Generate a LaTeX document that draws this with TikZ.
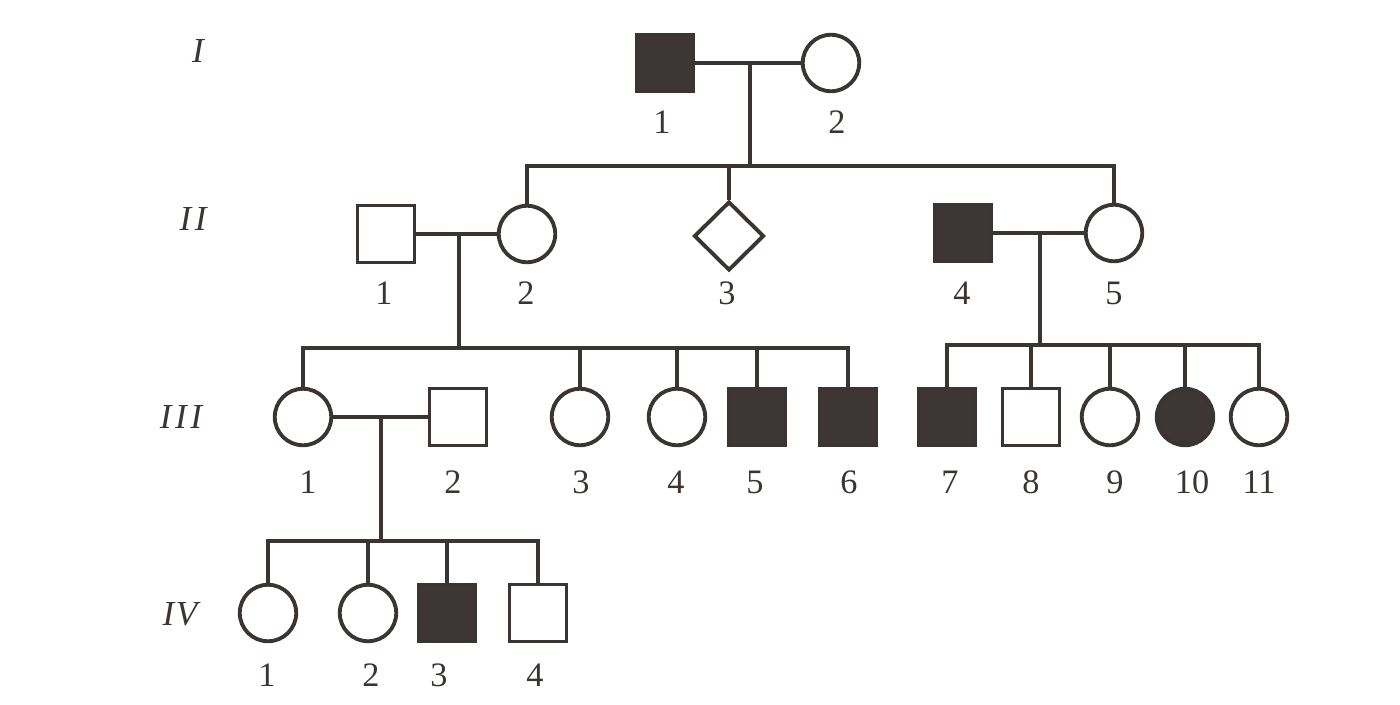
\documentclass[tikz,border=0pt]{standalone}
\usepackage{fontspec}
\setmainfont{Liberation Serif}
\usetikzlibrary{shapes.geometric, positioning}
\definecolor{pedgray}{RGB}{58, 52, 50}
\definecolor{pedfill}{RGB}{62, 54, 52}

\begin{document}
\begin{tikzpicture}[
    x=0.02cm, y=-0.02cm,
    malebox/.style={rectangle, draw=pedgray, line width=2.2pt, minimum size=1.14cm, inner sep=0pt},
    femalebox/.style={circle, draw=pedgray, line width=2.2pt, minimum size=1.13cm, inner sep=0pt},
    unkbox/.style={diamond, draw=pedgray, line width=2.2pt, minimum width=1.4cm, minimum height=1.38cm, inner sep=0pt},
    affected/.style={fill=pedfill},
    numtext/.style={font=\fontsize{19.5}{22}\selectfont, text=pedgray, inner sep=0pt},
    gentext/.style={font=\fontsize{20}{22}\selectfont\itshape, text=pedgray, inner sep=0pt},
    line/.style={draw=pedgray, line width=2.2pt}
  ]
    \useasboundingbox (0,0) rectangle (1400,704);

    % generation labels
    \node (gi) [gentext] at (198,51) {I};
    \node (gii) [gentext] at (193,219) {I\kern2pt I};
    \node (giii) [gentext] at (181,417) {I\kern2pt I\kern2pt I};
    \node (giv) [gentext] at (180,614) {I\kern1pt V};

    % generation I
    \node (i1) [malebox, affected] at (665,63) {};
    \node (i2) [femalebox] at (831,63) {};
    \node (li1) [numtext] at (662,122) {1};
    \node (li2) [numtext] at (837,122) {2};

    % generation II
    \node (ii1) [malebox] at (386,234) {};
    \node (ii2) [femalebox] at (527,234) {};
    \node (ii3) [unkbox] at (729,236) {};
    \node (ii4) [malebox, affected] at (963,233) {};
    \node (ii5) [femalebox] at (1114,233) {};
    \node (lii1) [numtext] at (384,293) {1};
    \node (lii2) [numtext] at (526,293) {2};
    \node (lii3) [numtext] at (727,293) {3};
    \node (lii4) [numtext] at (962,293) {4};
    \node (lii5) [numtext] at (1114,293) {5};

    % generation III
    \node (iii1) [femalebox] at (303,417) {};
    \node (iii2) [malebox] at (458,417) {};
    \node (iii3) [femalebox] at (580,417) {};
    \node (iii4) [femalebox] at (677,417) {};
    \node (iii5) [malebox, affected] at (757,417) {};
    \node (iii6) [malebox, affected] at (848,417) {};
    \node (iii7) [malebox, affected] at (947,417) {};
    \node (iii8) [malebox] at (1031,417) {};
    \node (iii9) [femalebox] at (1110,417) {};
    \node (iii10) [femalebox, affected] at (1185,417) {};
    \node (iii11) [femalebox] at (1259,417) {};
    \node (liii1) [numtext] at (308,482) {1};
    \node (liii2) [numtext] at (453,482) {2};
    \node (liii3) [numtext] at (581,482) {3};
    \node (liii4) [numtext] at (676,482) {4};
    \node (liii5) [numtext] at (755,482) {5};
    \node (liii6) [numtext] at (849,482) {6};
    \node (liii7) [numtext] at (950,482) {7};
    \node (liii8) [numtext] at (1031,482) {8};
    \node (liii9) [numtext] at (1115,482) {9};
    \node (liii10) [numtext] at (1192,482) {10};
    \node (liii11) [numtext] at (1259,482) {11};

    % generation IV
    \node (iv1) [femalebox] at (268,613) {};
    \node (iv2) [femalebox] at (368,613) {};
    \node (iv3) [malebox, affected] at (447,613) {};
    \node (iv4) [malebox] at (538,613) {};
    \node (liv1) [numtext] at (267,675) {1};
    \node (liv2) [numtext] at (371,675) {2};
    \node (liv3) [numtext] at (439,675) {3};
    \node (liv4) [numtext] at (535,675) {4};

    % marriages and sibships
    \coordinate (mi) at (750,63);
    \coordinate (sibi) at (750,166);
    \draw[line] (i1) -- (i2);
    \draw[line] (mi) -- (sibi);
    \draw[line] (ii2.north) |- (sibi) -| (ii5.north);
    \draw[line] (ii3.north) -- (ii3.north |- sibi);

    \coordinate (mii) at (459,234);
    \coordinate (sibii) at (459,348);
    \draw[line] (ii1) -- (ii2);
    \draw[line] (mii) -- (sibii);
    \draw[line] (iii1.north) |- (sibii) -| (iii6.north);
    \draw[line] (iii3.north) -- (iii3.north |- sibii);
    \draw[line] (iii4.north) -- (iii4.north |- sibii);
    \draw[line] (iii5.north) -- (iii5.north |- sibii);

    \coordinate (mii2) at (1040,233);
    \coordinate (sibii2) at (1040,345);
    \draw[line] (ii4) -- (ii5);
    \draw[line] (mii2) -- (sibii2);
    \draw[line] (iii7.north) |- (sibii2) -| (iii11.north);
    \draw[line] (iii8.north) -- (iii8.north |- sibii2);
    \draw[line] (iii9.north) -- (iii9.north |- sibii2);
    \draw[line] (iii10.north) -- (iii10.north |- sibii2);

    \coordinate (miii) at (381,417);
    \coordinate (sibiii) at (381,541);
    \draw[line] (iii1) -- (iii2);
    \draw[line] (miii) -- (sibiii);
    \draw[line] (iv1.north) |- (sibiii) -| (iv4.north);
    \draw[line] (iv2.north) -- (iv2.north |- sibiii);
    \draw[line] (iv3.north) -- (iv3.north |- sibiii);
  \end{tikzpicture}
\end{document}
